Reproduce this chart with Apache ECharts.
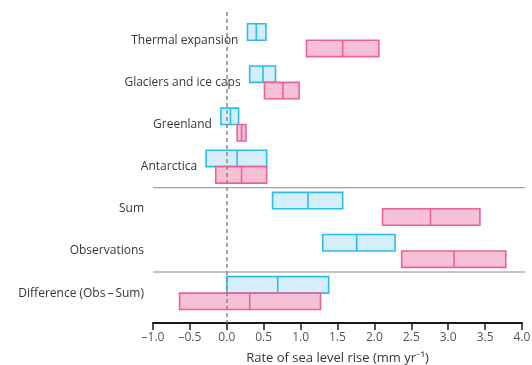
<!DOCTYPE html>
<html>
<head>
<meta charset="utf-8">
<script src="https://cdn.jsdelivr.net/npm/echarts@6/dist/echarts.min.js"></script>
<style>
  html, body { margin: 0; padding: 0; background: #fff; }
  #chart { width: 532px; height: 365px; }
</style>
</head>
<body>
<div id="chart"></div>
<script>
// Sea level budget: contributions for two periods (low / central / high, mm per year)
const categories = [
  'Thermal expansion',
  'Glaciers and ice caps',
  'Greenland',
  'Antarctica',
  'Sum',
  'Observations',
  'Difference (Obs\u2009\u2013\u2009Sum)'
];
// First period (upper, blue boxes)
const periodA = [
  [0.28, 0.40, 0.53],
  [0.31, 0.49, 0.66],
  [-0.08, 0.05, 0.16],
  [-0.28, 0.14, 0.54],
  [0.62, 1.10, 1.57],
  [1.30, 1.76, 2.28],
  [0.00, 0.69, 1.38]
];
// Second period (lower, pink boxes)
const periodB = [
  [1.08, 1.57, 2.06],
  [0.51, 0.76, 0.98],
  [0.14, 0.20, 0.26],
  [-0.15, 0.20, 0.54],
  [2.11, 2.76, 3.43],
  [2.37, 3.08, 3.78],
  [-0.64, 0.31, 1.27]
];
// Rows after this many get their label at the axis edge
const componentCount = 4;
const xTicks = { min: -1.0, max: 4.0, step: 0.5 };

const blue = { stroke: '#2bbcee', fill: '#d5eefa' };
const pink = { stroke: '#e9629c', fill: '#f6c0d7' };
const textColor = '#35353f';
const fontFamily = '"Open Sans", Lato, sans-serif';

function fmtTick(v) {
  const s = Math.abs(v).toFixed(1);
  return v < 0 ? '\u2013' + s : s;
}

const boxRows = [];
categories.forEach((c, i) => {
  boxRows.push([i, 0].concat(periodA[i]));
  boxRows.push([i, 1].concat(periodB[i]));
});

const chart = echarts.init(document.getElementById('chart'), null, { renderer: 'canvas' });

function renderBox(params, api) {
  const row = api.value(0);
  const half = api.value(1);
  const lo = api.value(2), mid = api.value(3), hi = api.value(4);
  const pLo = api.coord([lo, row]);
  const pMid = api.coord([mid, row]);
  const pHi = api.coord([hi, row]);
  const h = api.size([0, 0.39])[1];
  const y0 = half === 0 ? pLo[1] - h : pLo[1];
  const col = half === 0 ? blue : pink;
  const style = { fill: col.fill, stroke: col.stroke, lineWidth: 1.6 };
  return {
    type: 'group',
    children: [
      { type: 'rect', shape: { x: pLo[0], y: y0, width: pHi[0] - pLo[0], height: h }, style: style },
      { type: 'line', shape: { x1: pMid[0], y1: y0, x2: pMid[0], y2: y0 + h },
        style: { stroke: col.stroke, lineWidth: 1.6 } }
    ]
  };
}

function renderLabel(params, api) {
  const i = api.value(0);
  const minLow = Math.min(periodA[i][0], periodB[i][0]);
  const gridLeft = api.coord([xTicks.min, i])[0];
  const anchor = i < componentCount ? api.coord([minLow, i])[0] : gridLeft;
  const y = api.coord([0, i])[1];
  return {
    type: 'text',
    x: anchor - 9,
    y: y,
    style: {
      text: categories[i],
      align: 'right',
      verticalAlign: 'middle',
      fill: textColor,
      font: '12px ' + fontFamily
    }
  };
}

// Horizontal dividers between the component, budget and difference groups
function renderDivider(params, api) {
  const yv = api.value(0);
  const a = api.coord([xTicks.min, yv]);
  const b = api.coord([xTicks.max, yv]);
  return {
    type: 'line',
    shape: { x1: a[0], y1: a[1], x2: b[0] + 3, y2: b[1] },
    style: { stroke: '#8a8a8a', lineWidth: 1 }
  };
}

const option = {
  animation: false,
  backgroundColor: '#ffffff',
  grid: { left: 153, right: 10, top: 12, bottom: 42, containLabel: false, outerBoundsMode: 'none' },
  xAxis: {
    type: 'value',
    min: xTicks.min,
    max: xTicks.max,
    interval: xTicks.step,
    name: 'Rate of sea level rise (mm yr\u207B\u00B9)',
    nameLocation: 'middle',
    nameGap: 29,
    nameTextStyle: { color: textColor, fontSize: 13, fontFamily: fontFamily },
    axisLine: { show: true, onZero: false, lineStyle: { color: '#1a1a1a', width: 2 } },
    axisTick: { show: true, inside: false, length: 7, lineStyle: { color: '#1a1a1a', width: 1.5 } },
    axisLabel: { color: '#555', fontSize: 12, fontFamily: fontFamily, margin: 9, formatter: fmtTick },
    splitLine: { show: false }
  },
  yAxis: {
    type: 'value',
    inverse: true,
    min: -0.67,
    max: 6.71,
    show: false
  },
  series: [
    {
      type: 'custom',
      renderItem: renderDivider,
      data: [[(componentCount - 1 + componentCount) / 2], [5.5]],
      silent: true,
      z: 1
    },
    {
      type: 'custom',
      renderItem: renderBox,
      encode: { x: [2, 3, 4], y: 0 },
      data: boxRows,
      z: 2,
      markLine: {
        silent: true,
        symbol: 'none',
        label: { show: false },
        lineStyle: { color: '#888', type: [4, 3], width: 1.5 },
        data: [{ xAxis: 0 }],
        z: 5
      }
    },
    {
      type: 'custom',
      renderItem: renderLabel,
      data: categories.map((c, i) => [i]),
      silent: true,
      z: 3
    }
  ]
};
chart.setOption(option);
</script>
</body>
</html>
